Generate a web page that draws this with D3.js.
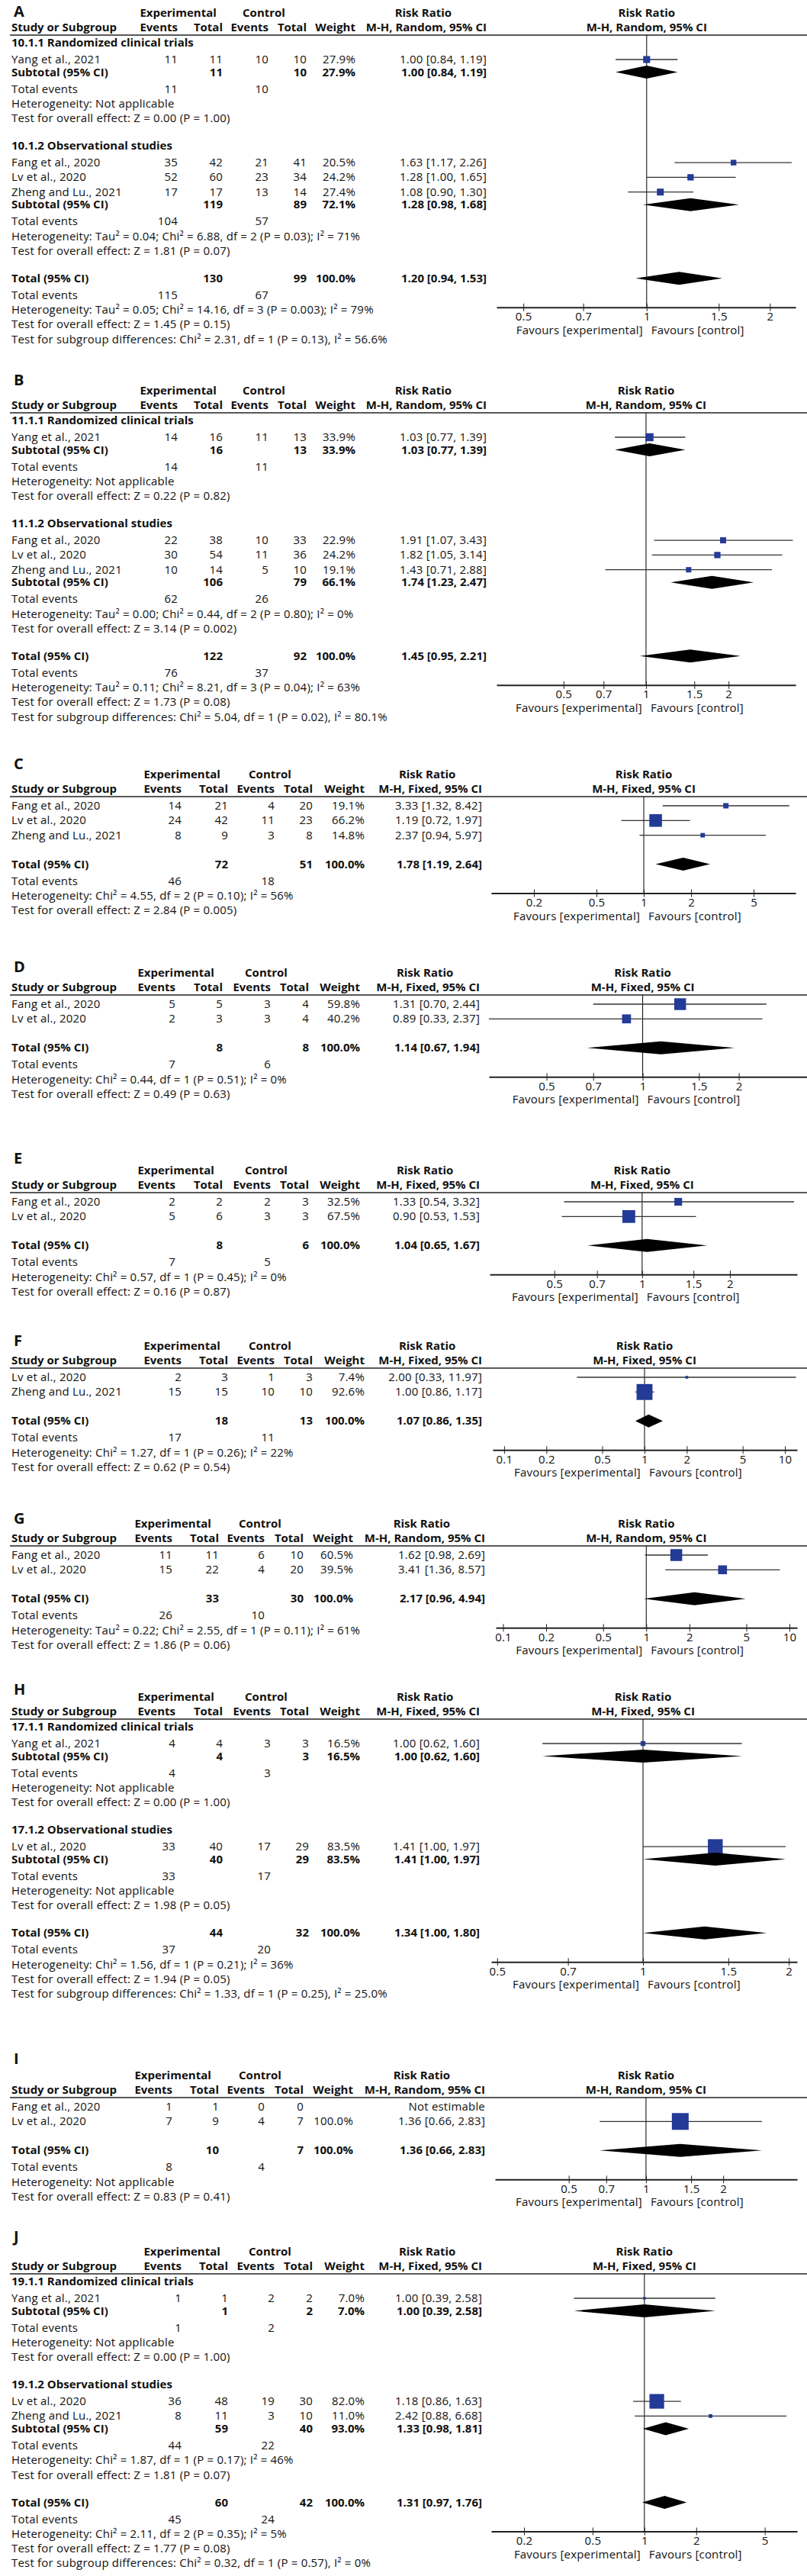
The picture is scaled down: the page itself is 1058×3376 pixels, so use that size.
<!DOCTYPE html>
<html>
<head>
<meta charset="utf-8">
<script src="https://cdn.jsdelivr.net/npm/d3@7"></script>
<style>
body { margin: 0; background: #fff; }
svg text { font-family: "Open Sans", "DejaVu Sans", sans-serif; font-size: 15px; letter-spacing: 0.2px; fill: #111; }
svg text.bold { font-weight: 700; letter-spacing: 0; }
svg text.letter { font-size: 20px; font-weight: 700; letter-spacing: 0; }
</style>
</head>
<body>
<div id="chart"></div>
<script>
var width = 1058;
var height = 3376;

// ---------- data ----------
var rowsA = [
	{type: "group", text: "10.1.1 Randomized clinical trials"},
	{type: "study", name: "Yang et al., 2021", ee: 11, et: 11, ce: 10, ct: 10, w: 27.9, rr: 1.00, lo: 0.84, hi: 1.19},
	{type: "sub", et: 11, ct: 10, w: 27.9, rr: 1.00, lo: 0.84, hi: 1.19},
	{type: "events", ee: 11, ce: 10},
	{type: "note", text: "Heterogeneity: Not applicable"},
	{type: "note", text: "Test for overall effect: Z = 0.00 (P = 1.00)"},
	{type: "group", text: "10.1.2 Observational studies"},
	{type: "study", name: "Fang et al., 2020", ee: 35, et: 42, ce: 21, ct: 41, w: 20.5, rr: 1.63, lo: 1.17, hi: 2.26},
	{type: "study", name: "Lv et al., 2020", ee: 52, et: 60, ce: 23, ct: 34, w: 24.2, rr: 1.28, lo: 1.00, hi: 1.65},
	{type: "study", name: "Zheng and Lu., 2021", ee: 17, et: 17, ce: 13, ct: 14, w: 27.4, rr: 1.08, lo: 0.90, hi: 1.30},
	{type: "sub", et: 119, ct: 89, w: 72.1, rr: 1.28, lo: 0.98, hi: 1.68},
	{type: "events", ee: 104, ce: 57},
	{type: "note", text: "Heterogeneity: Tau² = 0.04; Chi² = 6.88, df = 2 (P = 0.03); I² = 71%"},
	{type: "note", text: "Test for overall effect: Z = 1.81 (P = 0.07)"},
	{type: "total", et: 130, ct: 99, w: 100, rr: 1.20, lo: 0.94, hi: 1.53},
	{type: "events", ee: 115, ce: 67},
	{type: "note", text: "Heterogeneity: Tau² = 0.05; Chi² = 14.16, df = 3 (P = 0.003); I² = 79%"},
	{type: "note", text: "Test for overall effect: Z = 1.45 (P = 0.15)"},
	{type: "note", text: "Test for subgroup differences: Chi² = 2.31, df = 1 (P = 0.13), I² = 56.6%"}
];
var ticksA = [0.5, 0.7, 1, 1.5, 2];
var domainA = [0.43, 2.31];

var rowsB = [
	{type: "group", text: "11.1.1 Randomized clinical trials"},
	{type: "study", name: "Yang et al., 2021", ee: 14, et: 16, ce: 11, ct: 13, w: 33.9, rr: 1.03, lo: 0.77, hi: 1.39},
	{type: "sub", et: 16, ct: 13, w: 33.9, rr: 1.03, lo: 0.77, hi: 1.39},
	{type: "events", ee: 14, ce: 11},
	{type: "note", text: "Heterogeneity: Not applicable"},
	{type: "note", text: "Test for overall effect: Z = 0.22 (P = 0.82)"},
	{type: "group", text: "11.1.2 Observational studies"},
	{type: "study", name: "Fang et al., 2020", ee: 22, et: 38, ce: 10, ct: 33, w: 22.9, rr: 1.91, lo: 1.07, hi: 3.43},
	{type: "study", name: "Lv et al., 2020", ee: 30, et: 54, ce: 11, ct: 36, w: 24.2, rr: 1.82, lo: 1.05, hi: 3.14},
	{type: "study", name: "Zheng and Lu., 2021", ee: 10, et: 14, ce: 5, ct: 10, w: 19.1, rr: 1.43, lo: 0.71, hi: 2.88},
	{type: "sub", et: 106, ct: 79, w: 66.1, rr: 1.74, lo: 1.23, hi: 2.47},
	{type: "events", ee: 62, ce: 26},
	{type: "note", text: "Heterogeneity: Tau² = 0.00; Chi² = 0.44, df = 2 (P = 0.80); I² = 0%"},
	{type: "note", text: "Test for overall effect: Z = 3.14 (P = 0.002)"},
	{type: "total", et: 122, ct: 92, w: 100, rr: 1.45, lo: 0.95, hi: 2.21},
	{type: "events", ee: 76, ce: 37},
	{type: "note", text: "Heterogeneity: Tau² = 0.11; Chi² = 8.21, df = 3 (P = 0.04); I² = 63%"},
	{type: "note", text: "Test for overall effect: Z = 1.73 (P = 0.08)"},
	{type: "note", text: "Test for subgroup differences: Chi² = 5.04, df = 1 (P = 0.02), I² = 80.1%"}
];
var ticksB = [0.5, 0.7, 1, 1.5, 2];
var domainB = [0.285, 3.51];

var rowsC = [
	{type: "study", name: "Fang et al., 2020", ee: 14, et: 21, ce: 4, ct: 20, w: 19.1, rr: 3.33, lo: 1.32, hi: 8.42},
	{type: "study", name: "Lv et al., 2020", ee: 24, et: 42, ce: 11, ct: 23, w: 66.2, rr: 1.19, lo: 0.72, hi: 1.97},
	{type: "study", name: "Zheng and Lu., 2021", ee: 8, et: 9, ce: 3, ct: 8, w: 14.8, rr: 2.37, lo: 0.94, hi: 5.97},
	{type: "total", et: 72, ct: 51, w: 100, rr: 1.78, lo: 1.19, hi: 2.64},
	{type: "events", ee: 46, ce: 18},
	{type: "note", text: "Heterogeneity: Chi² = 4.55, df = 2 (P = 0.10); I² = 56%"},
	{type: "note", text: "Test for overall effect: Z = 2.84 (P = 0.005)"}
];
var ticksC = [0.2, 0.5, 1, 2, 5];
var domainC = [0.107, 9.24];

var rowsD = [
	{type: "study", name: "Fang et al., 2020", ee: 5, et: 5, ce: 3, ct: 4, w: 59.8, rr: 1.31, lo: 0.70, hi: 2.44},
	{type: "study", name: "Lv et al., 2020", ee: 2, et: 3, ce: 3, ct: 4, w: 40.2, rr: 0.89, lo: 0.33, hi: 2.37},
	{type: "total", et: 8, ct: 8, w: 100, rr: 1.14, lo: 0.67, hi: 1.94},
	{type: "events", ee: 7, ce: 6},
	{type: "note", text: "Heterogeneity: Chi² = 0.44, df = 1 (P = 0.51); I² = 0%"},
	{type: "note", text: "Test for overall effect: Z = 0.49 (P = 0.63)"}
];
var ticksD = [0.5, 0.7, 1, 1.5, 2];
var domainD = [0.33, 3.27];

var rowsE = [
	{type: "study", name: "Fang et al., 2020", ee: 2, et: 2, ce: 2, ct: 3, w: 32.5, rr: 1.33, lo: 0.54, hi: 3.32},
	{type: "study", name: "Lv et al., 2020", ee: 5, et: 6, ce: 3, ct: 3, w: 67.5, rr: 0.90, lo: 0.53, hi: 1.53},
	{type: "total", et: 8, ct: 6, w: 100, rr: 1.04, lo: 0.65, hi: 1.67},
	{type: "events", ee: 7, ce: 5},
	{type: "note", text: "Heterogeneity: Chi² = 0.57, df = 1 (P = 0.45); I² = 0%"},
	{type: "note", text: "Test for overall effect: Z = 0.16 (P = 0.87)"}
];
var ticksE = [0.5, 0.7, 1, 1.5, 2];
var domainE = [0.30, 3.40];

var rowsF = [
	{type: "study", name: "Lv et al., 2020", ee: 2, et: 3, ce: 1, ct: 3, w: 7.4, rr: 2.00, lo: 0.33, hi: 11.97},
	{type: "study", name: "Zheng and Lu., 2021", ee: 15, et: 15, ce: 10, ct: 10, w: 92.6, rr: 1.00, lo: 0.86, hi: 1.17},
	{type: "total", et: 18, ct: 13, w: 100, rr: 1.07, lo: 0.86, hi: 1.35},
	{type: "events", ee: 17, ce: 11},
	{type: "note", text: "Heterogeneity: Chi² = 1.27, df = 1 (P = 0.26); I² = 22%"},
	{type: "note", text: "Test for overall effect: Z = 0.62 (P = 0.54)"}
];
var ticksF = [0.1, 0.2, 0.5, 1, 2, 5, 10];
var domainF = [0.083, 12.2];

var rowsG = [
	{type: "study", name: "Fang et al., 2020", ee: 11, et: 11, ce: 6, ct: 10, w: 60.5, rr: 1.62, lo: 0.98, hi: 2.69},
	{type: "study", name: "Lv et al., 2020", ee: 15, et: 22, ce: 4, ct: 20, w: 39.5, rr: 3.41, lo: 1.36, hi: 8.57},
	{type: "total", et: 33, ct: 30, w: 100, rr: 2.17, lo: 0.96, hi: 4.94},
	{type: "events", ee: 26, ce: 10},
	{type: "note", text: "Heterogeneity: Tau² = 0.22; Chi² = 2.55, df = 1 (P = 0.11); I² = 61%"},
	{type: "note", text: "Test for overall effect: Z = 1.86 (P = 0.06)"}
];
var ticksG = [0.1, 0.2, 0.5, 1, 2, 5, 10];
var domainG = [0.089, 11.3];

var rowsH = [
	{type: "group", text: "17.1.1 Randomized clinical trials"},
	{type: "study", name: "Yang et al., 2021", ee: 4, et: 4, ce: 3, ct: 3, w: 16.5, rr: 1.00, lo: 0.62, hi: 1.60},
	{type: "sub", et: 4, ct: 3, w: 16.5, rr: 1.00, lo: 0.62, hi: 1.60},
	{type: "events", ee: 4, ce: 3},
	{type: "note", text: "Heterogeneity: Not applicable"},
	{type: "note", text: "Test for overall effect: Z = 0.00 (P = 1.00)"},
	{type: "group", text: "17.1.2 Observational studies"},
	{type: "study", name: "Lv et al., 2020", ee: 33, et: 40, ce: 17, ct: 29, w: 83.5, rr: 1.41, lo: 1.00, hi: 1.97},
	{type: "sub", et: 40, ct: 29, w: 83.5, rr: 1.41, lo: 1.00, hi: 1.97},
	{type: "events", ee: 33, ce: 17},
	{type: "note", text: "Heterogeneity: Not applicable"},
	{type: "note", text: "Test for overall effect: Z = 1.98 (P = 0.05)"},
	{type: "total", et: 44, ct: 32, w: 100, rr: 1.34, lo: 1.00, hi: 1.80},
	{type: "events", ee: 37, ce: 20},
	{type: "note", text: "Heterogeneity: Chi² = 1.56, df = 1 (P = 0.21); I² = 36%"},
	{type: "note", text: "Test for overall effect: Z = 1.94 (P = 0.05)"},
	{type: "note", text: "Test for subgroup differences: Chi² = 1.33, df = 1 (P = 0.25), I² = 25.0%"}
];
var ticksH = [0.5, 0.7, 1, 1.5, 2];
var domainH = [0.486, 2.08];

var rowsI = [
	{type: "study", name: "Fang et al., 2020", ee: 1, et: 1, ce: 0, ct: 0, w: null, rr: null, lo: null, hi: null},
	{type: "study", name: "Lv et al., 2020", ee: 7, et: 9, ce: 4, ct: 7, w: 100, rr: 1.36, lo: 0.66, hi: 2.83},
	{type: "total", et: 10, ct: 7, w: 100, rr: 1.36, lo: 0.66, hi: 2.83},
	{type: "events", ee: 8, ce: 4},
	{type: "note", text: "Heterogeneity: Not applicable"},
	{type: "note", text: "Test for overall effect: Z = 0.83 (P = 0.41)"}
];
var ticksI = [0.5, 0.7, 1, 1.5, 2];
var domainI = [0.258, 3.88];

var rowsJ = [
	{type: "group", text: "19.1.1 Randomized clinical trials"},
	{type: "study", name: "Yang et al., 2021", ee: 1, et: 1, ce: 2, ct: 2, w: 7.0, rr: 1.00, lo: 0.39, hi: 2.58},
	{type: "sub", et: 1, ct: 2, w: 7.0, rr: 1.00, lo: 0.39, hi: 2.58},
	{type: "events", ee: 1, ce: 2},
	{type: "note", text: "Heterogeneity: Not applicable"},
	{type: "note", text: "Test for overall effect: Z = 0.00 (P = 1.00)"},
	{type: "group", text: "19.1.2 Observational studies"},
	{type: "study", name: "Lv et al., 2020", ee: 36, et: 48, ce: 19, ct: 30, w: 82.0, rr: 1.18, lo: 0.86, hi: 1.63},
	{type: "study", name: "Zheng and Lu., 2021", ee: 8, et: 11, ce: 3, ct: 10, w: 11.0, rr: 2.42, lo: 0.88, hi: 6.68},
	{type: "sub", et: 59, ct: 40, w: 93.0, rr: 1.33, lo: 0.98, hi: 1.81},
	{type: "events", ee: 44, ce: 22},
	{type: "note", text: "Heterogeneity: Chi² = 1.87, df = 1 (P = 0.17); I² = 46%"},
	{type: "note", text: "Test for overall effect: Z = 1.81 (P = 0.07)"},
	{type: "total", et: 60, ct: 42, w: 100, rr: 1.31, lo: 0.97, hi: 1.76},
	{type: "events", ee: 45, ce: 24},
	{type: "note", text: "Heterogeneity: Chi² = 2.11, df = 2 (P = 0.35); I² = 5%"},
	{type: "note", text: "Test for overall effect: Z = 1.77 (P = 0.08)"},
	{type: "note", text: "Test for subgroup differences: Chi² = 0.32, df = 1 (P = 0.57), I² = 0%"}
];
var ticksJ = [0.2, 0.5, 1, 2, 5];
var domainJ = [0.129, 7.7];

var panels = [
	{letter: "A", method: "Random", rows: rowsA, ticks: ticksA, domain: domainA},
	{letter: "B", method: "Random", rows: rowsB, ticks: ticksB, domain: domainB},
	{letter: "C", method: "Fixed", rows: rowsC, ticks: ticksC, domain: domainC},
	{letter: "D", method: "Fixed", rows: rowsD, ticks: ticksD, domain: domainD},
	{letter: "E", method: "Fixed", rows: rowsE, ticks: ticksE, domain: domainE},
	{letter: "F", method: "Fixed", rows: rowsF, ticks: ticksF, domain: domainF},
	{letter: "G", method: "Random", rows: rowsG, ticks: ticksG, domain: domainG},
	{letter: "H", method: "Fixed", rows: rowsH, ticks: ticksH, domain: domainH},
	{letter: "I", method: "Random", rows: rowsI, ticks: ticksI, domain: domainI},
	{letter: "J", method: "Fixed", rows: rowsJ, ticks: ticksJ, domain: domainJ}
];

// ---------- layout ----------
// right edges of: exp events, exp total, ctrl events, ctrl total, weight, risk ratio
var colsAB = [233, 292, 352, 402, 466, 638];
var colsGI = [226, 287, 347, 398, 463, 636];
var colsCFJ = [238, 299, 360, 410, 478, 632];
var colsDEH = [230, 292, 355, 405, 472, 629];

var layout = [
	{top: 46, letterDy: -32, cols: colsAB, range: [651, 1043]},
	{top: 541, letterDy: -44, cols: colsAB, range: [651, 1043]},
	{top: 1044, letterDy: -44, cols: colsCFJ, range: [644, 1043]},
	{top: 1304, letterDy: -38, cols: colsDEH, range: [641, 1058]},
	{top: 1563, letterDy: -46, cols: colsDEH, range: [642, 1045]},
	{top: 1793, letterDy: -37, cols: colsCFJ, range: [646, 1045]},
	{top: 2026, letterDy: -37, cols: colsGI, range: [650, 1045]},
	{top: 2253, letterDy: -40, cols: colsDEH, range: [644, 1045]},
	{top: 2749, letterDy: -52, cols: colsGI, range: [649, 1045]},
	{top: 2980, letterDy: -50, cols: colsCFJ, range: [644, 1045]}
];

var textX = 15;
var base = 5;   // baseline offset from row centre
var squareBlue = "#233a96";
var fmt2 = d3.format(".2f");
var fmtW = function(w) { return d3.format(".1f")(w) + "%"; };

// square side grows with study weight
var sizeScale = d3.scalePow().exponent(0.69).domain([0, 100]).range([0, 22]);

var svg = d3.select("#chart").append("svg")
	.attr("width", width)
	.attr("height", height);

function gap(prev, type) {
	if (prev === "line") return type === "group" ? 10 : 12;
	if (type === "group") return 36;
	if (type === "total") return prev === "study" ? 38 : 36;
	if (type === "sub") return 16.5;
	if (prev === "group") return 22;
	if (type === "events") return 22;
	return 19.3;
}

function ciText(r) {
	if (r.rr == null) return "Not estimable";
	return fmt2(r.rr) + " [" + fmt2(r.lo) + ", " + fmt2(r.hi) + "]";
}

function drawPanel(p, lay) {
	var g = svg.append("g").attr("class", "panel");
	var L = lay.top;
	var cols = lay.cols;

	var x = d3.scaleLog()
		.domain(p.domain)
		.range(lay.range)
		.clamp(true);
	var vx = x(1);

	// panel letter
	g.append("text")
		.attr("class", "letter")
		.attr("x", 18)
		.attr("y", L + lay.letterDy + 8)
		.text(p.letter);

	// header row 2
	var hdr2 = ["Events", "Total", "Events", "Total", "Weight", "M-H, " + p.method + ", 95% CI"];
	var h2 = g.selectAll(".hdr2")
		.data(hdr2)
		.enter()
		.append("text")
		.attr("class", "bold hdr2")
		.attr("x", function(d, i) { return cols[i]; })
		.attr("y", L - 10 + base)
		.attr("text-anchor", "end")
		.text(function(d) { return d; });

	g.append("text")
		.attr("class", "bold")
		.attr("x", textX)
		.attr("y", L - 10 + base)
		.text("Study or Subgroup");

	// header row 1
	var evBox = h2.nodes()[0].getBBox();
	var mhBox = h2.nodes()[5].getBBox();
	g.append("text")
		.attr("class", "bold")
		.attr("x", evBox.x)
		.attr("y", L - 29 + base)
		.text("Experimental");
	g.append("text")
		.attr("class", "bold")
		.attr("x", cols[2] - 6)
		.attr("y", L - 29 + base)
		.attr("text-anchor", "middle")
		.text("Control");
	g.append("text")
		.attr("class", "bold")
		.attr("x", mhBox.x + mhBox.width / 2 - 4)
		.attr("y", L - 29 + base)
		.attr("text-anchor", "middle")
		.text("Risk Ratio");

	// right-hand headers
	g.append("text")
		.attr("class", "bold")
		.attr("x", vx)
		.attr("y", L - 29 + base)
		.attr("text-anchor", "middle")
		.text("Risk Ratio");
	g.append("text")
		.attr("class", "bold")
		.attr("x", vx)
		.attr("y", L - 10 + base)
		.attr("text-anchor", "middle")
		.text("M-H, " + p.method + ", 95% CI");

	// header rule
	g.append("line")
		.attr("x1", textX - 2)
		.attr("x2", width)
		.attr("y1", L)
		.attr("y2", L)
		.attr("stroke", "#222")
		.attr("stroke-width", 1.3);

	// row positions
	var ys = [];
	var prev = "line";
	var y = L;
	var totalY = L;
	p.rows.forEach(function(r) {
		y += gap(prev, r.type);
		ys.push(y);
		if (r.type === "total") totalY = y;
		prev = r.type;
	});
	var axisY = totalY + 38;

	// line of no effect
	g.append("line")
		.attr("x1", vx)
		.attr("x2", vx)
		.attr("y1", L)
		.attr("y2", axisY)
		.attr("stroke", "#000")
		.attr("stroke-width", 1);

	p.rows.forEach(function(r, i) {
		var ry = ys[i];
		var ty = ry + base;
		if (r.type === "group" || r.type === "note") {
			g.append("text")
				.attr("class", r.type === "group" ? "bold" : null)
				.attr("x", textX)
				.attr("y", ty)
				.text(r.text);
			return;
		}
		if (r.type === "events") {
			g.append("text").attr("x", textX).attr("y", ty).text("Total events");
			g.append("text").attr("x", cols[0]).attr("y", ty).attr("text-anchor", "end").text(r.ee);
			g.append("text").attr("x", cols[2]).attr("y", ty).attr("text-anchor", "end").text(r.ce);
			return;
		}
		if (r.type === "study") {
			g.append("text").attr("x", textX).attr("y", ty).text(r.name);
			var vals = [r.ee, r.et, r.ce, r.ct];
			vals.forEach(function(v, k) {
				g.append("text").attr("x", cols[k]).attr("y", ty).attr("text-anchor", "end").text(v);
			});
			if (r.w != null) {
				g.append("text").attr("x", cols[4]).attr("y", ty).attr("text-anchor", "end").text(fmtW(r.w));
			}
			g.append("text").attr("x", cols[5]).attr("y", ty).attr("text-anchor", "end").text(ciText(r));
			if (r.rr != null) {
				g.append("line")
					.attr("x1", x(r.lo))
					.attr("x2", x(r.hi))
					.attr("y1", ry)
					.attr("y2", ry)
					.attr("stroke", "#333")
					.attr("stroke-width", 1.3);
				var s = Math.max(3, sizeScale(r.w));
				g.append("rect")
					.attr("x", x(r.rr) - s / 2)
					.attr("y", ry - s / 2)
					.attr("width", s)
					.attr("height", s)
					.attr("fill", squareBlue);
			}
			return;
		}
		// subtotal / total rows
		var label = r.type === "sub" ? "Subtotal (95% CI)" : "Total (95% CI)";
		g.append("text").attr("class", "bold").attr("x", textX).attr("y", ty).text(label);
		g.append("text").attr("class", "bold").attr("x", cols[1]).attr("y", ty).attr("text-anchor", "end").text(r.et);
		g.append("text").attr("class", "bold").attr("x", cols[3]).attr("y", ty).attr("text-anchor", "end").text(r.ct);
		g.append("text").attr("class", "bold").attr("x", cols[4]).attr("y", ty).attr("text-anchor", "end").text(fmtW(r.w));
		g.append("text").attr("class", "bold").attr("x", cols[5]).attr("y", ty).attr("text-anchor", "end").text(ciText(r));
		var dpath = "M" + x(r.lo) + "," + ry +
			"L" + x(r.rr) + "," + (ry - 8.5) +
			"L" + x(r.hi) + "," + ry +
			"L" + x(r.rr) + "," + (ry + 8.5) + "Z";
		g.append("path")
			.attr("d", dpath)
			.attr("fill", "#000");
	});

	// log axis
	var axis = g.append("g")
		.attr("transform", "translate(0," + axisY + ")")
		.call(d3.axisBottom(x)
			.tickValues(p.ticks)
			.tickFormat(function(d) { return d; })
			.tickSize(5)
			.tickSizeOuter(0));
	axis.attr("font-size", null).attr("font-family", null);
	axis.select(".domain")
		.attr("stroke", "#222")
		.attr("stroke-width", 2);
	axis.selectAll(".tick line")
		.attr("y1", -5)
		.attr("stroke", "#222");
	axis.selectAll(".tick text")
		.attr("y", 7);

	g.append("text")
		.attr("x", vx - 5)
		.attr("y", axisY + 30 + base)
		.attr("text-anchor", "end")
		.text("Favours [experimental]");
	g.append("text")
		.attr("x", vx + 6)
		.attr("y", axisY + 30 + base)
		.text("Favours [control]");
}

panels.forEach(function(p, i) {
	drawPanel(p, layout[i]);
});
</script>
</body>
</html>
